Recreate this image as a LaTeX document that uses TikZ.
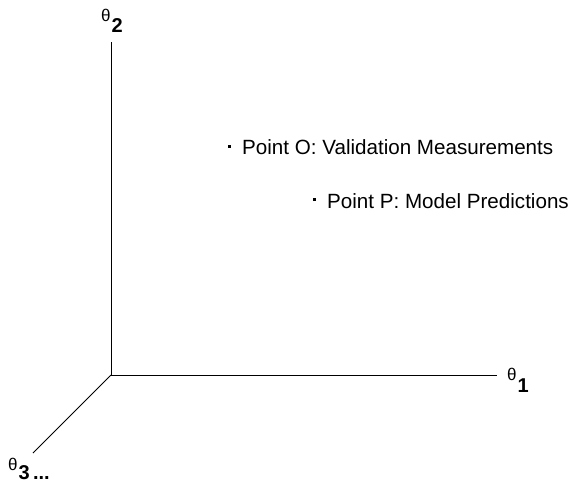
\documentclass[tikz,border=0pt]{standalone}
\usepackage{fontspec}
\setmainfont{Liberation Sans}
\usetikzlibrary{positioning}
\newcommand{\thsub}[2]{θ\kern1pt\raisebox{-#2}{\fontsize{20}{22}\selectfont\bfseries #1}}
\newcommand{\pdot}{\raisebox{7pt}{\rule{3pt}{3pt}}\hspace{11pt}}

\begin{document}
\begin{tikzpicture}[x=1pt,y=-1pt]
\tikzset{axis/.style={line width=1pt,black},
 lbl/.style={inner sep=0pt,anchor=base west,font=\fontsize{20.6}{24}\selectfont},
 axlbl/.style={inner sep=0pt,anchor=base west,font=\fontsize{17}{20}\selectfont}}
\useasboundingbox (0,0) rectangle (575,489);
\coordinate (orig) at (111,375);
\coordinate (e1) at (497,375);
\coordinate (e2) at (111,42);
\coordinate (e3) at (33,453);
\draw[axis] (orig) -- (e1);
\draw[axis] (orig) -- (e2);
\draw[axis] (orig) -- (e3);
\node[axlbl] (t1) at (507,380) {\thsub{1}{12pt}};
\node[axlbl] (t2) at (101,22) {\thsub{2}{11pt}};
\node[axlbl] (t3) at (8,470) {\thsub{3}{9pt}\raisebox{-9pt}{\fontsize{20}{22}\selectfont\bfseries\,...}};
\node[lbl] (ptO) at (228,155) {\pdot Point O: Validation Measurements};
\node[lbl] (ptP) at (313,208) {\pdot Point P: Model Predictions};
\end{tikzpicture}
\end{document}
